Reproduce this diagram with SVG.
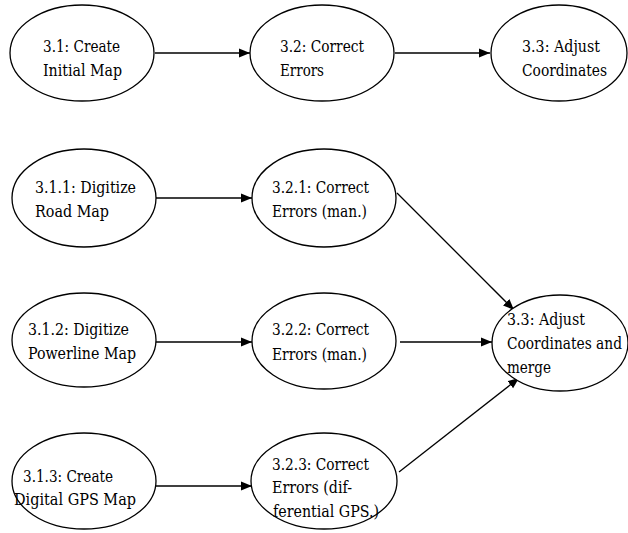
<svg xmlns="http://www.w3.org/2000/svg" width="628" height="533" viewBox="0 0 628 533">
<style>
.n ellipse{fill:#fff;stroke:#000;stroke-width:1.3}
.n text{font-family:'DejaVu Serif Condensed','DejaVu Serif',serif;font-size:16px;fill:#000}
.e line{stroke:#000;stroke-width:1.3;fill:none}
</style>
<defs>
<marker id="ah" markerUnits="userSpaceOnUse" markerWidth="12" markerHeight="10" refX="11" refY="5" orient="auto">
<path d="M0,0.5 L11,5 L0,9.5 Z" fill="#000"/>
</marker>
</defs>
<rect width="628" height="533" fill="#fff"/>
<g class="e" id="connectors">
<line x1="155" y1="53" x2="250" y2="53" marker-end="url(#ah)"/>
<line x1="395" y1="53" x2="490" y2="53" marker-end="url(#ah)"/>
<line x1="156" y1="198" x2="252" y2="198" marker-end="url(#ah)"/>
<line x1="156" y1="342" x2="252" y2="342" marker-end="url(#ah)"/>
<line x1="155" y1="486" x2="252" y2="486" marker-end="url(#ah)"/>
<line x1="397" y1="193" x2="514" y2="310" marker-end="url(#ah)"/>
<line x1="400" y1="342" x2="492" y2="342" marker-end="url(#ah)"/>
<line x1="399" y1="472" x2="519" y2="378" marker-end="url(#ah)"/>
</g>
<g class="n" id="n31"><ellipse cx="82" cy="53" rx="72" ry="48"/><text x="43" y="52" textLength="77" lengthAdjust="spacingAndGlyphs">3.1: Create</text><text x="43" y="76" textLength="79" lengthAdjust="spacingAndGlyphs">Initial Map</text></g>
<g class="n" id="n32"><ellipse cx="322" cy="53" rx="72" ry="48"/><text x="280" y="52" textLength="84" lengthAdjust="spacingAndGlyphs">3.2: Correct</text><text x="280" y="76" textLength="44" lengthAdjust="spacingAndGlyphs">Errors</text></g>
<g class="n" id="n33"><ellipse cx="559" cy="53" rx="68" ry="48"/><text x="522" y="52" textLength="78" lengthAdjust="spacingAndGlyphs">3.3: Adjust</text><text x="522" y="76" textLength="85" lengthAdjust="spacingAndGlyphs">Coordinates</text></g>
<g class="n" id="n311"><ellipse cx="84" cy="198" rx="72" ry="49"/><text x="35" y="193" textLength="101" lengthAdjust="spacingAndGlyphs">3.1.1: Digitize</text><text x="35" y="217" textLength="74" lengthAdjust="spacingAndGlyphs">Road Map</text></g>
<g class="n" id="n321"><ellipse cx="324" cy="198" rx="72" ry="49"/><text x="272" y="193" textLength="97" lengthAdjust="spacingAndGlyphs">3.2.1: Correct</text><text x="272" y="217" textLength="95" lengthAdjust="spacingAndGlyphs">Errors (man.)</text></g>
<g class="n" id="n312"><ellipse cx="84" cy="340" rx="72" ry="47"/><text x="28" y="335" textLength="101" lengthAdjust="spacingAndGlyphs">3.1.2: Digitize</text><text x="28" y="359" textLength="108" lengthAdjust="spacingAndGlyphs">Powerline Map</text></g>
<g class="n" id="n322"><ellipse cx="324" cy="341" rx="72" ry="48"/><text x="272" y="335" textLength="97" lengthAdjust="spacingAndGlyphs">3.2.2: Correct</text><text x="272" y="360" textLength="95" lengthAdjust="spacingAndGlyphs">Errors (man.)</text></g>
<g class="n" id="n313"><ellipse cx="84" cy="481" rx="72" ry="48"/><text x="23" y="482" textLength="90" lengthAdjust="spacingAndGlyphs">3.1.3: Create</text><text x="14" y="505" textLength="122" lengthAdjust="spacingAndGlyphs">Digital GPS Map</text></g>
<g class="n" id="n323"><ellipse cx="324" cy="481" rx="73" ry="48"/><text x="272" y="470" textLength="97" lengthAdjust="spacingAndGlyphs">3.2.3: Correct</text><text x="272" y="493" textLength="80" lengthAdjust="spacingAndGlyphs">Errors (dif-</text><text x="273" y="517" textLength="106" lengthAdjust="spacingAndGlyphs">ferential GPS.)</text></g>
<g class="n" id="n33m"><ellipse cx="560" cy="343" rx="68" ry="48"/><text x="507" y="325" textLength="78" lengthAdjust="spacingAndGlyphs">3.3: Adjust</text><text x="507" y="349" textLength="115" lengthAdjust="spacingAndGlyphs">Coordinates and</text><text x="507" y="373" textLength="44" lengthAdjust="spacingAndGlyphs">merge</text></g>
</svg>
